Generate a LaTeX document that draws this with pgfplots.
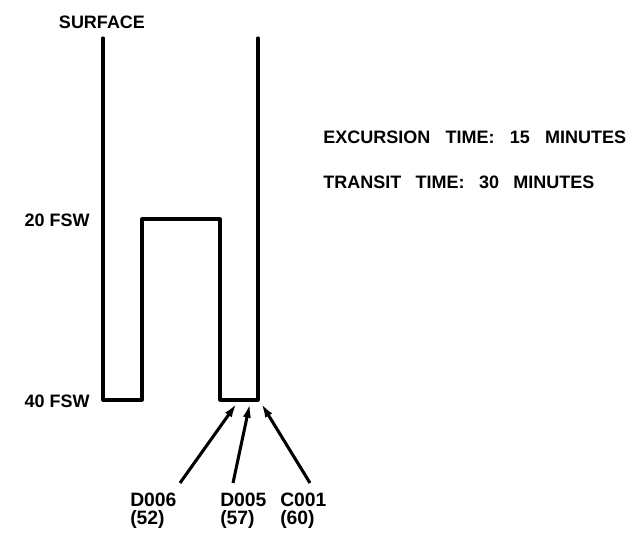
\documentclass[border=0pt]{standalone}
\usepackage{pgfplots}
\pgfplotsset{compat=1.18}
\usepackage{fontspec}
\setmainfont{Liberation Sans}
\usetikzlibrary{arrows.meta}
\tikzset{lab/.style={font=\fontsize{13.5}{13}\selectfont\bfseries, inner sep=0pt}}
\begin{document}
\begin{tikzpicture}
\begin{axis}[
  scale only axis, width=480pt, height=408pt,
  xmin=0, xmax=640, ymin=0, ymax=544, y dir=reverse,
  hide axis, clip=false,
]
% dive profile
\addplot[black, line width=2.3pt, line join=round, line cap=round] coordinates {
  (103,38) (103,400) (142,400) (142,219) (220,219) (220,400) (258,400) (258,38)
};
% pointers
\addplot[black, line width=2.3pt, -{Latex[length=11pt,width=6pt]}] coordinates {(180,483) (237,403)};
\addplot[black, line width=2.3pt, -{Latex[length=11pt,width=6pt]}] coordinates {(233,483) (250,403)};
\addplot[black, line width=2.3pt, -{Latex[length=11pt,width=6pt]}] coordinates {(310,483) (261,403)};
% labels
\node[lab] at (axis cs:102,22) {SURFACE};
\node[lab, anchor=east] at (axis cs:90,220) {20 FSW};
\node[lab, anchor=east] at (axis cs:90,401) {40 FSW};
\node[lab, anchor=west] at (axis cs:323,137) {EXCURSION\hspace{0.85em}TIME:\hspace{0.85em}15\hspace{0.85em}MINUTES};
\node[lab, anchor=west] at (axis cs:323,182) {TRANSIT\hspace{0.8em}TIME:\hspace{0.8em}30\hspace{0.8em}MINUTES};
\node[lab, anchor=north west, align=left, font=\fontsize{14.5}{13.5}\selectfont\bfseries] at (axis cs:130,493) {\textbf{D006}\\\textbf{(52)}};
\node[lab, anchor=north west, align=left, font=\fontsize{14.5}{13.5}\selectfont\bfseries] at (axis cs:220,493) {\textbf{D005}\\\textbf{(57)}};
\node[lab, anchor=north west, align=left, font=\fontsize{14.5}{13.5}\selectfont\bfseries] at (axis cs:280,493) {\textbf{C001}\\\textbf{(60)}};
\end{axis}
\pgfresetboundingbox
\path[use as bounding box] (current axis.south west) rectangle (current axis.north east);
\end{tikzpicture}
\end{document}
